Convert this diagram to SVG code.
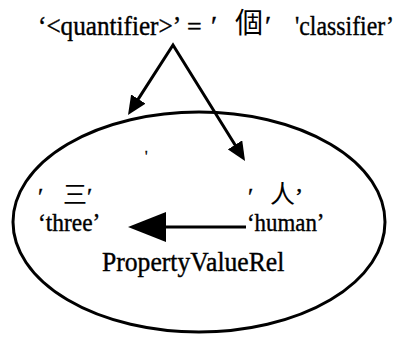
<svg xmlns="http://www.w3.org/2000/svg" width="397" height="339" viewBox="0 0 397 339">
<style>
text.t{font-family:'Liberation Serif','Times New Roman',Times,serif;fill:#000;stroke:#000;stroke-width:0.4}
text.c{font-family:'Noto Sans CJK TC','Noto Sans CJK SC',sans-serif;fill:#000}
.ln{fill:none;stroke:#000;stroke-width:3}
</style>
<defs>
<marker id="ah" markerUnits="userSpaceOnUse" markerWidth="19" markerHeight="17" refX="7" refY="8.5" orient="auto-start-reverse">
<path d="M0,0 L19,8.5 L0,17 z" fill="#000"/>
</marker>
</defs>
<rect width="397" height="339" fill="#fff"/>
<g id="title">
<text class="t" transform="translate(38,35) scale(0.9,1)" x="0" y="0" font-size="28">‘&lt;quantifier&gt;’</text>
<text class="t" x="187" y="35" font-size="26">=</text>
<text class="t" x="211" y="35" font-size="28">′</text>
<text class="c" x="235" y="33" font-size="28">個</text>
<text class="t" x="265" y="35" font-size="28">′</text>
<text class="t" transform="translate(295,35) scale(0.85,1)" x="0" y="0" font-size="28">'classifier’</text>
</g>
<g id="ellipse-node">
<ellipse class="ln" cx="199" cy="222" rx="186" ry="110"/>
<text class="t" x="145" y="161" font-size="14">'</text>
</g>
<g id="three">
<text class="t" x="38" y="204" font-size="24">′</text>
<text class="c" x="63" y="203" font-size="24">三</text>
<text class="t" x="87" y="204" font-size="24">′</text>
<text class="t" transform="translate(38,231) scale(0.9,1)" x="0" y="0" font-size="26">‘three’</text>
</g>
<g id="human">
<text class="t" x="248" y="204" font-size="24">′</text>
<text class="c" x="270" y="203" font-size="25">人</text>
<text class="t" x="295" y="204" font-size="24">’</text>
<text class="t" transform="translate(247,231) scale(0.88,1)" x="0" y="0" font-size="26">‘human’</text>
</g>
<g id="label">
<text class="t" transform="translate(102,271) scale(0.95,1)" x="0" y="0" font-size="27">PropertyValueRel</text>
</g>
<g id="connectors">
<path class="ln" d="M134.5,104.9 L173,45 L238.7,150.8" stroke-linejoin="miter" marker-start="url(#ah)" marker-end="url(#ah)"/>
<line class="ln" x1="246" y1="227" x2="160" y2="227"/>
<polygon points="128,227 166,212 166,242" fill="#000"/>
</g>
</svg>
